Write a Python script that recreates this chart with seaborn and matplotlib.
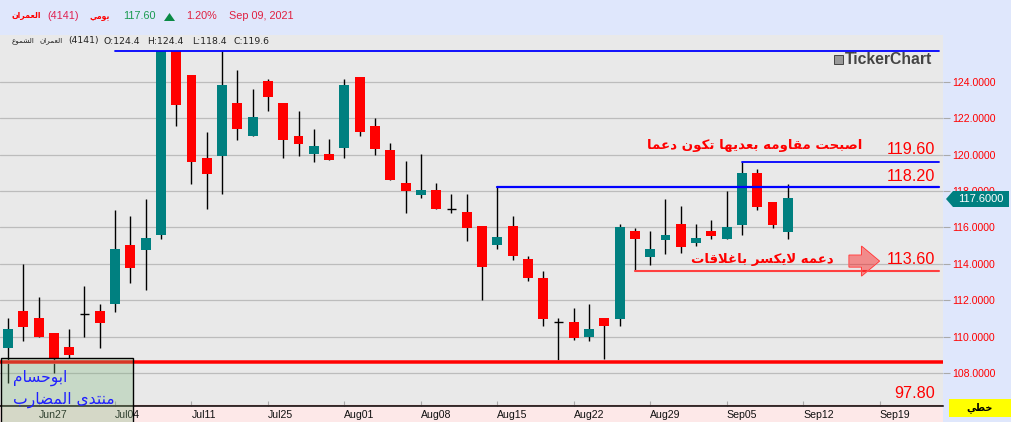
import matplotlib
matplotlib.use("Agg")
import matplotlib.pyplot as plt
from matplotlib.patches import Rectangle, Polygon, FancyArrow
import numpy as np
import pandas as pd
import seaborn as sns

# daily candles
opens = [109.39, 111.42, 111.04, 110.22, 109.45, 111.24, 111.42, 111.81, 115.05, 114.78,
         115.60, 125.70, 124.40, 119.84, 119.95, 122.81, 121.00, 124.02, 122.81, 121.00,
         120.01, 120.01, 120.34, 124.24, 121.57, 120.24, 118.42, 117.77, 118.04, 117.03,
         116.83, 116.06, 115.02, 116.06, 114.25, 113.22, 110.78, 110.80, 109.97, 111.02,
         110.96, 115.80, 114.37, 115.30, 116.18, 115.14, 115.80, 115.36, 116.13, 118.99,
         117.39, 115.74]
highs = [111.04, 114.01, 112.19, 110.22, 110.44, 112.80, 111.81, 116.97, 116.64, 117.58,
         125.70, 125.70, 124.40, 121.22, 125.70, 124.62, 123.58, 124.18, 122.81, 122.42,
         121.38, 120.83, 124.18, 124.24, 121.99, 120.62, 119.63, 120.02, 118.42, 117.82,
         117.82, 116.06, 118.20, 116.61, 114.41, 113.60, 111.00, 111.57, 111.79, 111.02,
         116.18, 115.96, 115.80, 117.56, 117.17, 116.18, 116.40, 118.00, 119.60, 119.20,
         117.39, 118.38]
lows = [107.45, 109.78, 110.00, 108.02, 108.84, 110.00, 109.39, 111.37, 112.96, 112.58,
        115.38, 121.55, 118.36, 116.99, 117.81, 120.78, 121.00, 122.37, 119.79, 119.95,
        119.57, 119.73, 119.79, 121.00, 119.98, 118.59, 116.78, 117.60, 117.00, 116.78,
        115.24, 112.00, 114.80, 114.19, 113.04, 110.58, 108.62, 109.81, 109.75, 108.77,
        110.58, 113.60, 113.93, 114.54, 114.59, 114.97, 115.36, 115.36, 115.58, 116.95,
        115.96, 115.36]
closes = [110.44, 110.55, 110.00, 108.84, 109.00, 111.24, 110.77, 114.83, 113.79, 115.44,
          125.70, 122.75, 119.60, 118.96, 123.80, 121.38, 122.04, 123.14, 120.78, 120.56,
          120.45, 119.73, 123.80, 121.22, 120.31, 118.59, 117.99, 118.04, 117.00, 117.03,
          115.95, 113.81, 115.46, 114.41, 113.20, 110.96, 110.78, 109.92, 110.41, 110.58,
          116.02, 115.36, 114.81, 115.58, 114.92, 115.41, 115.52, 116.02, 118.99, 117.12,
          116.13, 117.61]

tick_pos = [2, 7, 12, 17, 22, 27, 32, 37, 42, 47, 52, 57]
tick_labels = ["Jun27", "Jul04", "Jul11", "Jul25", "Aug01", "Aug08", "Aug15",
               "Aug22", "Aug29", "Sep05", "Sep12", "Sep19"]
price_ticks = [108, 110, 112, 114, 116, 118, 120, 122, 124]

# value, first candle, last x, colour, width
levels = [(125.70, 7, 60.86, "#0000ff", 1.3),
          (119.60, 48, 60.86, "#0000ff", 1.3),
          (118.20, 32, 60.86, "#0000ff", 1.6),
          (113.60, 41, 60.86, "#ff4040", 1.5),
          (108.60, -0.6, 61.2, "#ff3030", 2.8),
          (108.60, -0.6, 61.2, "#ff0000", 1.4)]

notes = [("119.60", 150), ("118.20", 177), ("113.60", 259), ("97.80", 394)]

TEAL = "#008080"
RED = "#ff0000"
PANEL = "#e9e9e9"
BLUE_BG = "#dfe7fc"
W, H = 1012, 422

# matplotlib does not shape arabic, so map letters to presentation forms
AR_BASE = {"ا": 0xFE8D, "ب": 0xFE8F, "ت": 0xFE95, "ح": 0xFEA1, "خ": 0xFEA5, "د": 0xFEA9,
           "ر": 0xFEAD, "س": 0xFEB1, "ش": 0xFEB5, "ص": 0xFEB9, "ض": 0xFEBD, "ط": 0xFEC1,
           "ع": 0xFEC9, "غ": 0xFECD, "ق": 0xFED5, "ك": 0xFED9, "ل": 0xFEDD, "م": 0xFEE1,
           "ن": 0xFEE5, "ه": 0xFEE9, "و": 0xFEED, "ى": 0xFEEF, "ي": 0xFEF1, "\uFEFB": 0xFEFB}
RIGHT_ONLY = "ادروى\uFEFB"


def ar(text):
    chars = text.replace("لا", "\uFEFB")
    out = []
    for i, c in enumerate(chars):
        if c not in AR_BASE:
            out.append(c)
            continue
        prev = chars[i - 1] if i else ""
        nxt = chars[i + 1] if i + 1 < len(chars) else ""
        joins_prev = prev in AR_BASE and prev not in RIGHT_ONLY
        joins_next = nxt in AR_BASE and c not in RIGHT_ONLY
        offset = {(False, False): 0, (True, False): 1, (False, True): 2, (True, True): 3}[(joins_prev, joins_next)]
        out.append(chr(AR_BASE[c] + offset))
    return "".join(out[::-1])


def px_text(x, y, s, **kw):
    kw.setdefault("va", "center")
    fig.text(x / W, 1 - y / H, s, **kw)


sns.set_theme(style="whitegrid")
plt.rcParams["font.family"] = ["Liberation Sans", "DejaVu Sans"]

df = pd.DataFrame({"i": np.arange(len(opens)), "o": opens, "h": highs, "l": lows, "c": closes})
up = df[df.c > df.o]
down = df[df.c < df.o]
flat = df[df.c == df.o]

fig = plt.figure(figsize=(W / 100, H / 100), dpi=100, facecolor=BLUE_BG)
ax = fig.add_axes([0, (H - 406) / H, 943 / W, 371 / H], facecolor=PANEL)

ax.vlines(df.i, df.l, df.h, color="black", linewidth=1.0, zorder=2.5)
ax.hlines(flat.c, flat.i - 0.3, flat.i + 0.3, color="black", linewidth=1.0, zorder=2.5)
sns.barplot(x=up.i.values, y=(up.c - up.o).values, bottom=up.o.values, native_scale=True, orient="x",
            width=0.65, color=TEAL, saturation=1, linewidth=0, errorbar=None, ax=ax, zorder=3)
sns.barplot(x=down.i.values, y=(down.o - down.c).values, bottom=down.c.values, native_scale=True, orient="x",
            width=0.65, color=RED, saturation=1, linewidth=0, errorbar=None, ax=ax, zorder=3)

for value, start, end, color, lw in levels:
    sns.lineplot(x=[start, end], y=[value, value], color=color, linewidth=lw, estimator=None, ax=ax, zorder=4)

ax.add_patch(FancyArrow(55.0, 114.15, 2.0, 0, width=0.66, head_width=1.65, head_length=1.18,
                        length_includes_head=True, facecolor="#ff0000", alpha=0.4, zorder=5))
ax.add_patch(FancyArrow(55.0, 114.15, 2.0, 0, width=0.66, head_width=1.65, head_length=1.18,
                        length_includes_head=True, fill=False, edgecolor="#ff4040", linewidth=0.8, zorder=5))

ax.set_xlim(-0.523, 61.15)
ax.set_ylim(106.19, 126.57)
ax.axhline(106.25, color="#f0a8a8", linewidth=0.8, zorder=2)
ax.set_xlabel("")
ax.set_ylabel("")
ax.set_xticks(tick_pos)
ax.set_xticklabels(tick_labels, ha="left", fontsize=7.6, color="#111111")
ax.set_yticks(price_ticks)
ax.set_yticklabels([f"{p:.4f}" for p in price_ticks], fontsize=7.6, color=RED)
ax.yaxis.tick_right()
ax.grid(False)
ax.yaxis.grid(True, color="#bcbcbc", linewidth=0.9)
ax.set_axisbelow(True)
ax.tick_params(axis="x", direction="in", length=3.6, width=0.8, color="#aaaaaa", pad=3, bottom=True)
ax.tick_params(axis="y", direction="out", length=5, width=0.8, color="#aaaaaa", pad=1.5, right=True)
for name in ["top", "left", "right"]:
    ax.spines[name].set_visible(False)
ax.spines["bottom"].set_color("black")
ax.spines["bottom"].set_linewidth(1.1)

# pink strip under the dates
fig.add_artist(Rectangle((0, 0), 943 / W, 16 / H, transform=fig.transFigure, facecolor="#fde8e8", edgecolor="none", zorder=-1))
# green note box runs over the date strip
fig.add_artist(Rectangle((1 / W, 1 - 423 / H), 132 / W, 65 / H, transform=fig.transFigure,
                         facecolor="#7bb47b", alpha=0.3, edgecolor="none", zorder=6))
fig.add_artist(Rectangle((1 / W, 1 - 423 / H), 132 / W, 65 / H, transform=fig.transFigure,
                         fill=False, edgecolor="black", linewidth=1.0, zorder=6))

# header
hdr = 7.8
px_text(12, 16, ar("العمران"), color=RED, fontsize=5.6, fontweight="bold", family="DejaVu Sans")
px_text(47, 16, "(4141)", color="#e02050", fontsize=hdr)
px_text(90, 16, ar("يومي"), color=RED, fontsize=5.6, fontweight="bold", family="DejaVu Sans")
px_text(123, 16, "117.60", color="#1a9a50", fontsize=hdr)
fig.add_artist(Polygon([(164 / W, 1 - 21 / H), (175 / W, 1 - 21 / H), (169.5 / W, 1 - 13 / H)],
                       transform=fig.transFigure, facecolor="#0a8a45", edgecolor="none"))
px_text(186, 16, "1.20%", color="#e02040", fontsize=hdr)
px_text(229, 16, "Sep 09, 2021", color="#e02040", fontsize=hdr)

# second row
px_text(12, 41, ar("الشموع"), color="#222222", fontsize=5.2, family="DejaVu Sans")
px_text(40, 41, ar("العمران"), color="#222222", fontsize=5.2, family="DejaVu Sans")
row = [(68, "(4141)"), (104, "O:124.4"), (147, "H:124.4"), (192, "L:118.4"), (234, "C:119.6")]
for x, s in row:
    px_text(x, 41, s, color="#222222", fontsize=6.7, family="DejaVu Sans")

# watermark
fig.add_artist(Rectangle((834 / W, 1 - 64 / H), 9 / W, 9 / H, transform=fig.transFigure,
                         facecolor="#999999", edgecolor="#444444", linewidth=0.7))
px_text(845, 59, "TickerChart", color="#444444", fontsize=11.3, fontweight="bold")

# level notes
for s, y in notes:
    px_text(935, y, s, color=RED, fontsize=11.6, ha="right")
px_text(755, 146, ar("اصبحت مقاومه بعديها تكون دعما"), color=RED, fontsize=9.6, fontweight="bold",
        family="DejaVu Sans", ha="center")
px_text(762, 260, ar("دعمه لايكسر باغلاقات"), color=RED, fontsize=9.5, fontweight="bold",
        family="DejaVu Sans", ha="center")
px_text(13, 378, ar("ابوحسام"), color="#2020ff", fontsize=11.2, family="DejaVu Sans", zorder=7)
px_text(13, 400, ar("منتدى المضارب"), color="#2020ff", fontsize=11.2, family="DejaVu Sans", zorder=7)

# last price tag
fig.add_artist(Polygon([(946 / W, 1 - 199 / H), (953 / W, 1 - 191 / H), (1009 / W, 1 - 191 / H),
                        (1009 / W, 1 - 207 / H), (953 / W, 1 - 207 / H)],
                       transform=fig.transFigure, facecolor=TEAL, edgecolor="none", zorder=6))
px_text(981, 198.5, "117.6000", color="white", fontsize=8, ha="center", zorder=7)

# line style button
fig.add_artist(Rectangle((949 / W, 1 - 417 / H), 63 / W, 18 / H, transform=fig.transFigure,
                         facecolor="#ffff00", edgecolor="none"))
px_text(980, 408, ar("خطي"), color="black", fontsize=7, fontweight="bold", family="DejaVu Sans", ha="center")

fig.savefig("out.png", dpi=100, facecolor=fig.get_facecolor())
